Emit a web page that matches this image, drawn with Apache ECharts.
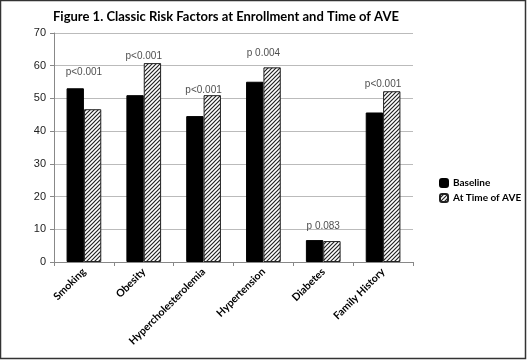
<!DOCTYPE html>
<html><head><meta charset="utf-8">
<script src="https://cdn.jsdelivr.net/npm/echarts@6/dist/echarts.min.js"></script>
<style>html,body{margin:0;padding:0;background:#fff}#c{width:527px;height:360px}</style>
</head><body><div id="c"></div>
<script>
const categories = ['Smoking','Obesity','Hypercholesterolemia','Hypertension','Diabetes','Family History'];
const baseline = [53.1, 51.0, 44.6, 55.1, 6.7, 45.7];
const atAVE = [46.7, 60.8, 51.0, 59.5, 6.4, 52.2];
const pText = ['p<0.001','p<0.001','p<0.001','p 0.004','p 0.083','p<0.001'];
const pLabelY = [58.1, 63.0, 52.4, 63.8, 11.0, 54.4];
const yTicks = [0,10,20,30,40,50,60,70];

const cv = document.createElement('canvas');
cv.width = 4; cv.height = 4;
const g = cv.getContext('2d');
g.fillStyle = '#fff'; g.fillRect(0,0,4,4);
g.strokeStyle = '#222'; g.lineWidth = 1.2;
g.beginPath();
g.moveTo(-1,5); g.lineTo(5,-1);
g.moveTo(-1,1); g.lineTo(1,-1);
g.moveTo(3,5); g.lineTo(5,3);
g.stroke();

const chart = echarts.init(document.getElementById('c'));
chart.setOption({
  animation:false,
  backgroundColor:'#fff',
  title:{text:'Figure 1. Classic Risk Factors at Enrollment and Time of AVE', left:48, top:5,
    textStyle:{fontFamily:'Lato', fontWeight:'bold', fontSize:13, color:'#000'}},
  graphic:[{type:'rect', shape:{x:0.5,y:0.5,width:525,height:358}, style:{fill:null, stroke:'#333', lineWidth:1.5}, silent:true}],
  legend:{orient:'vertical', left:434, top:173, itemWidth:8, itemHeight:8, itemGap:5,
    textStyle:{fontFamily:'Lato', fontWeight:'bold', fontSize:10, color:'#000'},
    data:['Baseline','At Time of AVE']},
  grid:{left:54, right:114, top:33, bottom:98},
  xAxis:{type:'category', data:categories,
    axisLine:{lineStyle:{color:'#888'}}, axisTick:{show:true, length:4, lineStyle:{color:'#888'}},
    axisLabel:{rotate:45, interval:0, margin:8, fontFamily:'Lato', fontWeight:'bold', fontSize:10.5, color:'#000'}},
  yAxis:{type:'value', min:yTicks[0], max:yTicks[yTicks.length-1], interval:10,
    axisLine:{show:true, lineStyle:{color:'#888'}}, axisTick:{show:true, length:4, lineStyle:{color:'#888'}},
    splitLine:{lineStyle:{color:'#bbb'}},
    axisLabel:{fontFamily:'Liberation Sans', fontSize:11, color:'#222', margin:8}},
  series:[
    {name:'Baseline', type:'bar', data:baseline, barGap:'0%', barCategoryGap:'42%',
      itemStyle:{color:'#000', borderColor:'#000', borderWidth:1}},
    {name:'At Time of AVE', type:'bar', data:atAVE,
      itemStyle:{color:{image:cv, repeat:'repeat'}, borderColor:'#222', borderWidth:1}},
    {type:'scatter', data:pLabelY, symbolSize:0, silent:true,
      label:{show:true, position:'inside', formatter:p=>pText[p.dataIndex],
        fontFamily:'Liberation Sans', fontSize:10, color:'#222'}}
  ]
});
</script></body></html>
